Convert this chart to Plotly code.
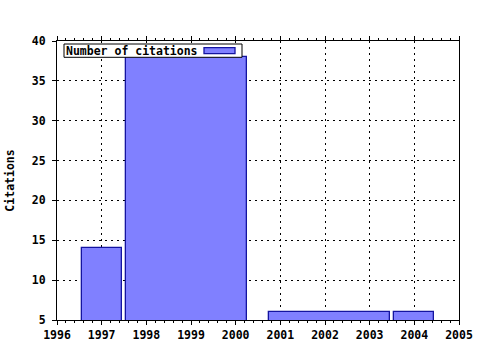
import plotly.graph_objects as go

# Data
bar_start = [1996.55, 1997.55, 2000.75, 2003.55]
bar_end = [1997.45, 2000.25, 2003.45, 2004.45]
citations = [14, 38, 6, 6]
series_name = "Number of citations"
x_ticks = list(range(1996, 2006))
y_ticks = list(range(5, 45, 5))

centers = [(a + b) / 2 for a, b in zip(bar_start, bar_end)]
widths = [b - a for a, b in zip(bar_start, bar_end)]

FILL = "#8080ff"
EDGE = "#1414a0"
FONT = dict(family="DejaVu Sans Mono", size=11.5, color="black", weight="bold")

fig = go.Figure()
fig.add_trace(go.Bar(
    x=centers, y=citations, width=widths, name=series_name,
    marker=dict(color=FILL, line=dict(color=EDGE, width=1.3)),
    showlegend=False,
))

L, R, T, B = 57, 21, 41, 30
W, H = 480, 350
pw, ph = W - L - R, H - T - B

fig.update_layout(
    width=W, height=H,
    margin=dict(l=L, r=R, t=T, b=B, autoexpand=False),
    paper_bgcolor="white", plot_bgcolor="white",
    font=FONT,
    bargap=0,
    xaxis=dict(
        range=[1996, 2005], tickvals=x_ticks, ticktext=[str(v) for v in x_ticks],
        showgrid=True, gridcolor="black", gridwidth=1, griddash="2px,4px",
        showline=True, linecolor="black", linewidth=1, mirror="allticks",
        ticks="outside", ticklen=4, tickcolor="black",
        minor=dict(dtick=0.2, ticks="outside", ticklen=2, tickcolor="black", showgrid=False),
        tickfont=FONT, zeroline=False, automargin=False,
    ),
    yaxis=dict(
        range=[5, 40], tickvals=y_ticks,
        showgrid=True, gridcolor="black", gridwidth=1, griddash="2px,4px",
        showline=True, linecolor="black", linewidth=1, mirror=True,
        ticks="outside", ticklen=4, tickcolor="black", ticklabelstandoff=4,
        tickfont=FONT, zeroline=False, automargin=False,
        title=dict(text="Citations", font=FONT, standoff=14),
    ),
)

# Legend box (text left, swatch right) placed in the top-left corner
fig.add_shape(
    type="rect", xref="paper", yref="paper", layer="above",
    x0=(64 - L) / pw, x1=(242 - L) / pw,
    y0=1 - (57.3 - T) / ph, y1=1 - (44 - T) / ph,
    fillcolor="white", line=dict(color="black", width=1),
)
fig.add_shape(
    type="rect", xref="paper", yref="paper", layer="above",
    x0=(204 - L) / pw, x1=(235 - L) / pw,
    y0=1 - (53.7 - T) / ph, y1=1 - (47.7 - T) / ph,
    fillcolor=FILL, line=dict(color=EDGE, width=1.3),
)
fig.add_annotation(
    xref="paper", yref="paper",
    x=(64.5 - L) / pw, y=1 - (50.7 - T) / ph,
    xanchor="left", yanchor="middle", borderpad=0,
    text=series_name, showarrow=False, align="left", font=FONT,
)

fig.write_html("out.html")
